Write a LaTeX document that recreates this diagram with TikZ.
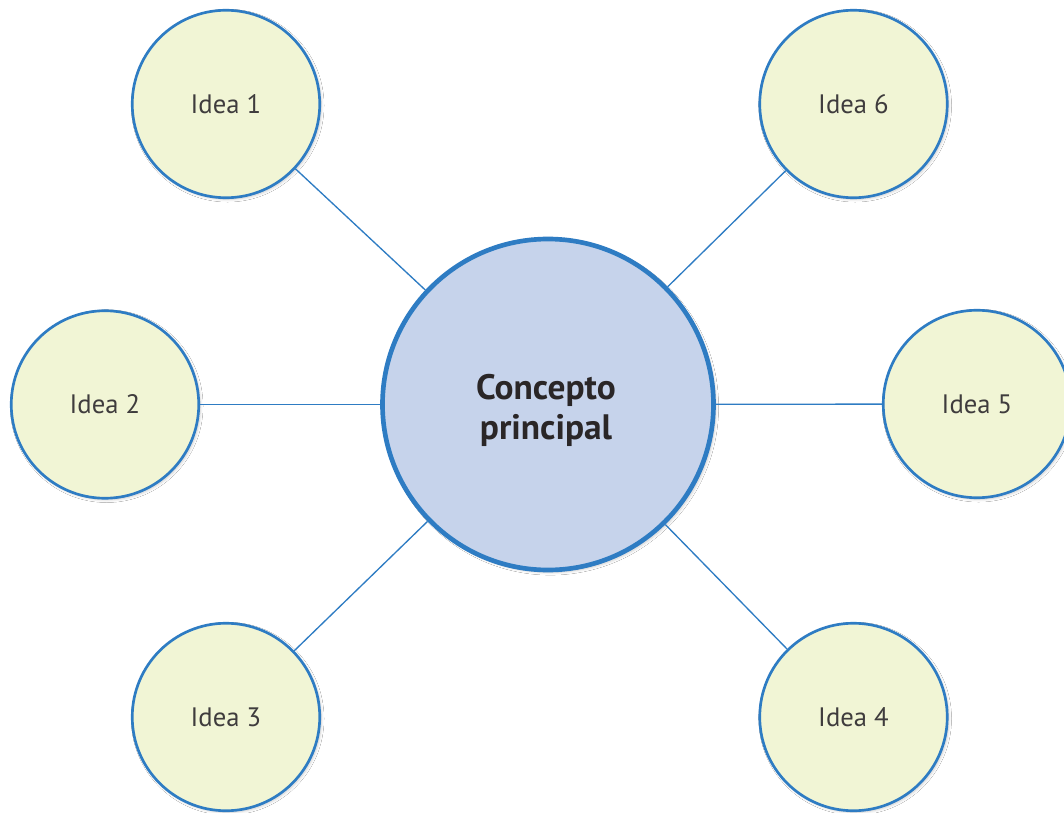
\documentclass[tikz,border=0pt]{standalone}
\usepackage{fontspec}
\setmainfont{PT Sans}
\usetikzlibrary{shadows.blur}
\definecolor{rim}{HTML}{2E7CC3}
\definecolor{cfill}{HTML}{C6D3EB}
\definecolor{ifill}{HTML}{F1F5D5}
\definecolor{ink}{HTML}{2A2627}
\tikzset{
  idea/.style={circle, draw=rim, line width=2pt, fill=ifill, minimum size=187.5*0.75pt, inner sep=0pt,
    text=ink!90, font=\fontsize{20}{24}\selectfont,
    blur shadow={shadow xshift=1.2pt, shadow yshift=-1.2pt, shadow blur steps=8, shadow opacity=20}},
  core/.style={circle, draw=rim, line width=3.5pt, fill=cfill, minimum size=331*0.75pt, inner sep=0pt,
    text=ink, align=center, font=\bfseries\fontsize{26.5}{30}\selectfont,
    blur shadow={shadow xshift=1.8pt, shadow yshift=-1.8pt, shadow blur steps=8, shadow opacity=20}},
  link/.style={draw=rim, line width=1pt}
}
\begin{document}
\begin{tikzpicture}[x=0.75pt, y=-0.75pt]
\useasboundingbox (0,0) rectangle (1064,813);
\clip (0,0) rectangle (1064,813);
\fill[white] (0,0) rectangle (1064,813);
\node[core] (c) at (548,404.5) {};
\node[text=ink, align=center, font=\bfseries\fontsize{26.5}{30}\selectfont] (ct) at (546,410) {Concepto\\principal};
\node[idea] (i1) at (226,104) {Idea 1};
\node[idea] (i2) at (105,404.5) {Idea 2};
\node[idea] (i3) at (226,717) {Idea 3};
\node[idea] (i4) at (853.5,717) {Idea 4};
\node[idea] (i5) at (977,404) {Idea 5};
\node[idea] (i6) at (853.5,104) {Idea 6};
\foreach \n in {i1,i2,i3,i4,i5,i6} \draw[link] (c) -- (\n);
\end{tikzpicture}
\end{document}
